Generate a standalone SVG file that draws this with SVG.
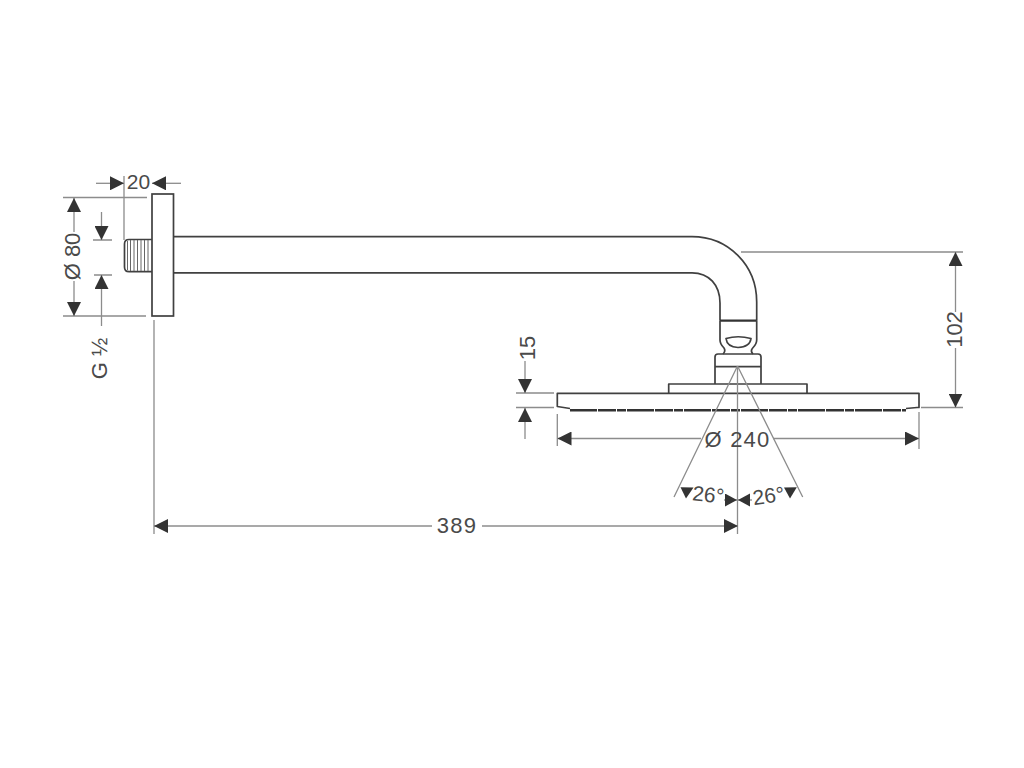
<svg xmlns="http://www.w3.org/2000/svg" width="1024" height="768" viewBox="0 0 1024 768">
<defs>
<style>
.o{fill:none;stroke:#404040;stroke-width:1.7;stroke-linejoin:round}
.f{fill:#fff;stroke:#404040;stroke-width:1.7}
.d{fill:none;stroke:#8c8c8c;stroke-width:1.3}
.a{fill:#333;stroke:none}
.t{font-family:"Liberation Sans",Arial,sans-serif;font-size:22px;fill:#4a4a4a;text-anchor:middle}
.w{letter-spacing:1.2px}
.s{font-size:21px}
</style>
<marker id="h" markerWidth="15" markerHeight="14" refX="14" refY="7" orient="auto-start-reverse" markerUnits="userSpaceOnUse"><path class="a" d="M0 0L14 7L0 14Z"/></marker>
<marker id="k" markerWidth="13" markerHeight="14" refX="12" refY="6.500" orient="auto" markerUnits="userSpaceOnUse"><path class="a" d="M0 0L12 6.500L0 13Z"/></marker>
</defs>
<rect width="1024" height="768" fill="#fff"/>
<g id="shower-arm">
<path class="o" d="M173.500 236.700H692C728 236.700 756.700 265 756.700 302V320.700M173.500 272.800H692C709 272.800 720 285 720 303V320.700"/>
<path d="M720 320.700H756.700" fill="none" stroke="#333" stroke-width="2.200"/>
</g>
<g id="wall-flange">
<rect class="f" x="152" y="194" width="21.500" height="122"/>
</g>
<g id="thread">
<path class="o" d="M152 239.500H129Q124.500 239.500 124.500 244V267Q124.500 271.700 129 271.700H152"/>
<path d="M127.500 241V270M130.500 240V271M134 240V271M137.500 240V271M141 240V271M144.500 240V271M148 240V271" fill="none" stroke="#666" stroke-width="1"/>
</g>
<g id="swivel-joint">
<path class="o" d="M720 320.700V340Q720 344 724 348Q726 351 723 354M756.700 320.700V340Q756.700 344 752.700 348Q750 351 753 354"/>
<path class="o" d="M726 338.500Q738 335 751 338.500Q750 347 738 347.500Q727 347 726 338.500Z"/>
<path class="o" d="M715 384V357Q715 354 718 354H758Q761 354 761 357V384M715 366.700H761"/>
</g>
<g id="shower-head">
<path class="o" d="M668.700 393V384H807V393"/>
<path class="o" d="M906 408.500L917 407.500H919V393.300H557.300V406.500L570 408.500"/>
<path d="M570 410.300H906" fill="none" stroke="#333" stroke-width="2.600" stroke-dasharray="27 1 18 1 9 1"/>
</g>
<g id="connectors">
<path class="d" d="M124 176V240M63 197.500H147M63 316H146M93 240H112M94 275H112M154 320V534M737.500 366V534M741 252H963M921 407.500H963M516 393H554M516 407.500H554M557.300 414V446M919 412V449"/>
<path class="d" d="M737.500 366L674 497M737.500 366L802.700 497"/>
<path class="d" marker-end="url(#h)" d="M96 183.300H124"/>
<path class="d" marker-end="url(#h)" d="M181 183.300H152"/>
<path class="d" marker-end="url(#h)" d="M74 232V198"/>
<path class="d" marker-end="url(#h)" d="M74 281V316"/>
<path class="d" marker-end="url(#h)" d="M101.500 212V240"/>
<path class="d" marker-end="url(#h)" d="M101.500 326V275"/>
<path class="d" marker-end="url(#h)" d="M432 526H154"/>
<path class="d" marker-end="url(#h)" d="M482 526H738"/>
<path class="d" marker-end="url(#h)" d="M701 438.500H557.500"/>
<path class="d" marker-end="url(#h)" d="M773 438.500H919"/>
<path class="d" marker-end="url(#h)" d="M955.500 312V252"/>
<path class="d" marker-end="url(#h)" d="M955.500 348V407.500"/>
<path class="d" marker-end="url(#h)" d="M525 361V393"/>
<path class="d" marker-end="url(#h)" d="M525 439V408"/>
<path class="d" marker-end="url(#k)" d="M724 500H737"/>
<path class="d" marker-end="url(#k)" d="M752 500H738"/>
<path class="a" d="M680.500 487.300L693.500 487.500L686 498.500Z"/>
<path class="a" d="M784 487.500L796.800 487.300L790 498.500Z"/>
</g>
<g id="labels">
<text class="t s" x="138.500" y="188.500">20</text>
<text class="t" transform="translate(80 256.500) rotate(-90)">Ø 80</text>
<text class="t" transform="translate(107 358.500) rotate(-90)">G ½</text>
<text class="t w" x="457" y="532.500">389</text>
<text class="t w" x="737.500" y="447">Ø 240</text>
<text class="t s" transform="translate(707.500 502) rotate(6)">26°</text>
<text class="t s" transform="translate(769.500 503) rotate(-8)">26°</text>
<text class="t" transform="translate(534.500 348) rotate(-90)">15</text>
<text class="t" transform="translate(962 329.500) rotate(-90)">102</text>
</g>
</svg>
